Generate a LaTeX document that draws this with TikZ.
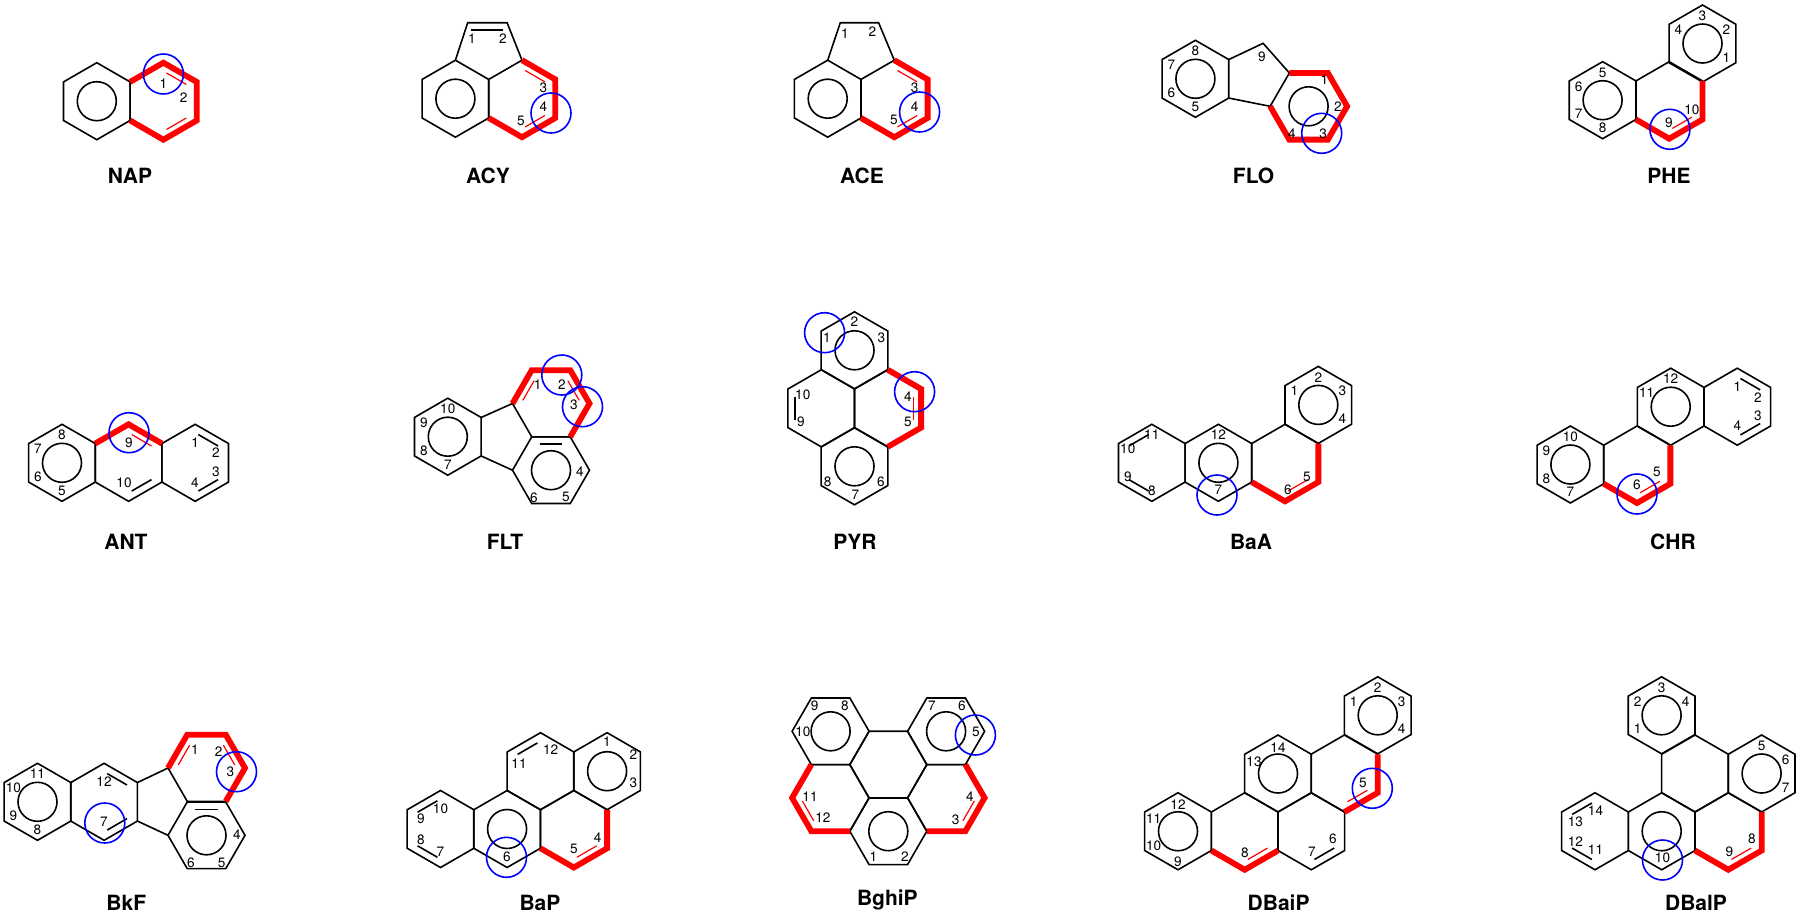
\documentclass[tikz,border=0pt]{standalone}
\usepackage{fontspec}
\setmainfont{TeX Gyre Heros}
\usetikzlibrary{calc}
\newcounter{lc}
\newcommand\hexP[3]{%
 \coordinate (#1) at (#2,#3);
 \coordinate (#1-t) at (#2,#3-38.5);
 \coordinate (#1-ur) at (#2+33.34,#3-19.25);
 \coordinate (#1-lr) at (#2+33.34,#3+19.25);
 \coordinate (#1-b) at (#2,#3+38.5);
 \coordinate (#1-ll) at (#2-33.34,#3+19.25);
 \coordinate (#1-ul) at (#2-33.34,#3-19.25);
 \draw[bond] (#1-t)--(#1-ur)--(#1-lr)--(#1-b)--(#1-ll)--(#1-ul)--cycle;}
\newcommand\hexF[3]{%
 \coordinate (#1) at (#2,#3);
 \coordinate (#1-l) at (#2-38.5,#3);
 \coordinate (#1-ul) at (#2-19.25,#3-33.34);
 \coordinate (#1-ur) at (#2+19.25,#3-33.34);
 \coordinate (#1-r) at (#2+38.5,#3);
 \coordinate (#1-lr) at (#2+19.25,#3+33.34);
 \coordinate (#1-ll) at (#2-19.25,#3+33.34);
 \draw[bond] (#1-l)--(#1-ul)--(#1-ur)--(#1-r)--(#1-lr)--(#1-ll)--cycle;}
\newcommand\arom[1]{\draw[bond] (#1) circle (19.5);}
% inner double-bond line: ring, v1, v2, style
\newcommand\dbl[4]{%
 \coordinate (dp) at ($(#1)!0.78!(#1-#2)$);
 \coordinate (dq) at ($(#1)!0.78!(#1-#3)$);
 \draw[#4] ($(dp)!0.12!(dq)$) -- ($(dq)!0.12!(dp)$);}
\newcommand\lab[3]{\stepcounter{lc}\node[lbl] (l\thelc) at ($(#1)!0.72!(#1-#2)$) {#3};}
\newcommand\labxy[3]{\stepcounter{lc}\node[lbl] (l\thelc) at (#1,#2) {#3};}
\newcommand\blue[2]{\draw[blu] (#1,#2) circle (20);}
\begin{document}
\begin{tikzpicture}[x=0.5pt,y=-0.5pt,
 bond/.style={line width=0.8pt,black,line join=miter},
 hl/.style={line width=2.9pt,red,line join=miter},
 thinred/.style={line width=0.6pt,red},
 thinblk/.style={line width=0.8pt,black},
 blu/.style={line width=0.8pt,blue},
 lbl/.style={font=\fontsize{6.8pt}{7pt}\selectfont,inner sep=0pt},
 title/.style={font=\fontsize{10.5pt}{12pt}\selectfont\bfseries,inner sep=0pt}]
\useasboundingbox (0,0) rectangle (1800,916);
\fill[white] (0,0) rectangle (1800,916);

% ===== NAP =====
\hexP{na}{96.8}{101.2}\arom{na}
\hexP{nb}{163.4}{101.2}
\draw[hl] (nb-ul)--(nb-t)--(nb-ur)--(nb-lr)--(nb-b)--(nb-ll);
\dbl{nb}{t}{ur}{thinred}\dbl{nb}{lr}{b}{thinred}
\labxy{163.4}{84}{1}\labxy{183.7}{98}{2}
\blue{163.4}{74}
\node[title] (tNAP) at (130,176) {NAP};

% ===== ACY =====
\hexP{ya}{455.4}{98.7}\arom{ya}
\hexP{yb}{522}{98.7}
\draw[bond] (ya-t)--(467.7,22.7)--(507.1,22.7)--(yb-t);
\draw[thinblk] (471,30)--(503,30);
\draw[hl] (yb-t)--(yb-ur)--(yb-lr)--(yb-b)--(yb-ll);
\dbl{yb}{t}{ur}{thinred}\dbl{yb}{lr}{b}{thinred}
\labxy{472}{39}{1}\labxy{503}{39}{2}\labxy{543.4}{88}{3}\labxy{543.4}{107}{4}\labxy{521}{121}{5}
\blue{551}{113}
\node[title] (tACY) at (488,176) {ACY};

% ===== ACE =====
\hexP{ea}{827.7}{98.7}\arom{ea}
\hexP{eb}{894.3}{98.7}
\draw[bond] (ea-t)--(840.3,22.7)--(878.6,22.7)--(eb-t);
\draw[hl] (eb-t)--(eb-ur)--(eb-lr)--(eb-b)--(eb-ll);
\dbl{eb}{t}{ur}{thinred}\dbl{eb}{lr}{b}{thinred}
\labxy{845}{33.3}{1}\labxy{872.5}{31.7}{2}\labxy{914.6}{88}{3}\labxy{914.6}{107}{4}\labxy{893.9}{120}{5}
\blue{919.6}{112}
\node[title] (tACE) at (862,176) {ACE};

% ===== FLO =====
\hexP{fa}{1195.4}{78.8}\arom{fa}
\hexF{fb}{1308.6}{106.3}\arom{fb}
\draw[bond] (fa-ur)--(1263.1,43.3)--(fb-ul);
\draw[bond] (fb-l)--(fa-lr);
\draw[hl] (fb-ul)--(fb-ur)--(fb-r)--(fb-lr)--(fb-ll)--(fb-l);
\labxy{1262}{56.7}{9}\labxy{1324.4}{80}{1}\labxy{1337.8}{106.7}{2}\labxy{1323.2}{133.3}{3}\labxy{1291.8}{133.3}{4}
\lab{fa}{t}{8}\lab{fa}{ul}{7}\lab{fa}{ll}{6}\lab{fa}{b}{5}
\blue{1321.7}{133.3}
\node[title] (tFLO) at (1253.6,176) {FLO};

% ===== PHE =====
\hexP{pt}{1702.5}{43.5}\arom{pt}
\hexP{pl}{1602.6}{100.2}\arom{pl}
\hexP{pm}{1669.2}{100.2}
\draw[hl] (pm-ll)--(pm-b)--(pm-lr)--(pm-ur);
\dbl{pm}{b}{lr}{thinred}
\lab{pl}{t}{5}\lab{pl}{ul}{6}\lab{pl}{ll}{7}\lab{pl}{b}{8}
\lab{pt}{ul}{4}\lab{pt}{t}{3}\lab{pt}{ur}{2}\lab{pt}{lr}{1}
\labxy{1668.8}{123}{9}\labxy{1691.8}{110}{10}
\blue{1669.9}{129.3}
\node[title] (tPHE) at (1669,176) {PHE};

% ===== ANT =====
\hexP{aa}{62}{462.8}\arom{aa}
\hexP{ab}{128.6}{462.8}
\hexP{ac}{195.2}{462.8}
\draw[hl] (ab-ul)--(ab-t)--(ab-ur);
\dbl{ab}{t}{ur}{thinred}
\dbl{ab}{lr}{b}{thinblk}\dbl{ac}{t}{ur}{thinblk}\dbl{ac}{lr}{b}{thinblk}
\lab{aa}{t}{8}\lab{aa}{ul}{7}\lab{aa}{ll}{6}\lab{aa}{b}{5}
\labxy{129}{443}{9}\labxy{124}{483}{10}
\labxy{195.2}{442.7}{1}\labxy{216}{453}{2}\labxy{216}{471.7}{3}\labxy{195}{482.7}{4}
\blue{129}{432.7}
\node[title] (tANT) at (126,541.7) {ANT};

% ===== FLT =====
\hexP{ta}{447.8}{436.7}\arom{ta}
\hexF{tu}{551}{403.5}
\hexF{td}{551}{470.2}\arom{td}
\draw[bond] (ta-ur)--(tu-l);
\draw[bond] (td-l)--(ta-lr);
\draw[hl] (tu-l)--(tu-ul)--(tu-ur)--(tu-r)--(tu-lr);
\dbl{tu}{l}{ul}{thinred}\dbl{tu}{ur}{r}{thinred}
\dbl{td}{ul}{ur}{thinblk}
\lab{ta}{t}{10}\lab{ta}{ul}{9}\lab{ta}{ll}{8}\lab{ta}{b}{7}
\labxy{537.7}{385}{1}\labxy{561.8}{385}{2}\labxy{574}{405}{3}
\labxy{580}{471.7}{4}\labxy{566}{497.3}{5}\labxy{533.9}{497.3}{6}
\blue{561.8}{375}\blue{582.5}{406.7}
\node[title] (tFLT) at (505,541.7) {FLT};

% ===== PYR =====
\hexP{ya1}{854.5}{350.3}\arom{ya1}
\hexP{yl}{821.2}{408.3}
\hexP{yr}{887.8}{408.3}
\hexP{yb1}{854.5}{466.3}\arom{yb1}
\draw[hl] (yr-t)--(yr-ur)--(yr-lr)--(yr-b);
\dbl{yr}{ur}{lr}{thinred}
\dbl{yl}{ul}{ll}{thinblk}
\labxy{854.5}{321.7}{2}\labxy{827}{338}{1}\labxy{881.3}{338}{3}
\labxy{802.8}{395}{10}\labxy{801}{421.7}{9}\labxy{908}{396.7}{4}\labxy{908}{421.7}{5}
\labxy{827.7}{481.7}{8}\labxy{881}{481.7}{6}\labxy{855.3}{495}{7}
\blue{824.6}{332.7}\blue{914.6}{391.7}
\node[title] (tPYR) at (855,541.7) {PYR};

% ===== BaA =====
\hexP{bl}{1151.8}{462.8}
\hexP{bm}{1218.4}{462.8}\arom{bm}
\hexP{br}{1285}{462.8}
\hexP{bt}{1318.3}{404.9}\arom{bt}
\draw[hl] (br-ll)--(br-b)--(br-lr)--(br-ur);
\dbl{br}{b}{lr}{thinred}
\dbl{bl}{ul}{t}{thinblk}\dbl{bl}{ll}{b}{thinblk}
\lab{bl}{t}{11}\lab{bl}{ul}{10}\lab{bl}{ll}{9}\lab{bl}{b}{8}
\lab{bm}{t}{12}\labxy{1218.4}{490}{7}
\labxy{1288}{490}{6}\labxy{1307}{476.7}{5}
\lab{bt}{ul}{1}\lab{bt}{t}{2}\lab{bt}{ur}{3}\lab{bt}{lr}{4}
\blue{1217}{495}
\node[title] (tBaA) at (1251,541.7) {BaA};

% ===== CHR =====
\hexP{cl}{1570.4}{464.5}\arom{cl}
\hexP{cm}{1637}{464.5}
\hexP{ct}{1670.7}{406.7}\arom{ct}
\hexP{cr}{1737.3}{406.7}
\draw[hl] (cm-ll)--(cm-b)--(cm-lr)--(cm-ur);
\dbl{cm}{b}{lr}{thinred}
\dbl{cr}{t}{ur}{thinblk}\dbl{cr}{lr}{b}{thinblk}
\lab{cl}{t}{10}\lab{cl}{ul}{9}\lab{cl}{ll}{8}\lab{cl}{b}{7}
\lab{ct}{ul}{11}\lab{ct}{t}{12}
\labxy{1737.3}{387}{1}\labxy{1758}{398}{2}\labxy{1758}{416}{3}\labxy{1737.3}{426}{4}
\labxy{1637}{485}{6}\labxy{1657}{472}{5}
\blue{1637}{494}
\node[title] (tCHR) at (1673,541.7) {CHR};

% ===== BkF =====
\hexP{kl}{37.5}{801.8}\arom{kl}
\hexP{km}{104.1}{801.8}
\hexF{ku}{206.5}{768}
\hexF{kd}{206.5}{835.3}\arom{kd}
\draw[bond] (km-ur)--(ku-l);
\draw[bond] (kd-l)--(km-lr);
\draw[hl] (ku-l)--(ku-ul)--(ku-ur)--(ku-r)--(ku-lr);
\dbl{ku}{l}{ul}{thinred}\dbl{ku}{ur}{r}{thinred}
\dbl{km}{t}{ur}{thinblk}\dbl{km}{lr}{b}{thinblk}\dbl{kd}{ul}{ur}{thinblk}
\lab{kl}{t}{11}\lab{kl}{ul}{10}\lab{kl}{ll}{9}\lab{kl}{b}{8}
\labxy{104}{781.7}{12}\labxy{104}{822}{7}
\labxy{195}{750}{1}\labxy{218.7}{751.7}{2}\labxy{230.5}{771.7}{3}
\labxy{237}{835}{4}\labxy{221.7}{862.7}{5}\labxy{190.8}{862.7}{6}
\blue{236.5}{771.7}\blue{104.8}{823}
\node[title] (tBkF) at (126.3,903) {BkF};

% ===== BaP =====
\hexP{pa}{440.5}{829}
\hexP{pb}{507.1}{829}\arom{pb}
\hexP{pc}{573.8}{829}
\hexP{pd}{540.5}{771.2}
\hexP{pe}{607.1}{771.2}\arom{pe}
\draw[hl] (pc-ll)--(pc-b)--(pc-lr)--(pc-ur);
\dbl{pc}{b}{lr}{thinred}
\dbl{pa}{ul}{t}{thinblk}\dbl{pa}{ll}{b}{thinblk}\dbl{pd}{ul}{t}{thinblk}
\labxy{440.5}{808.3}{10}\labxy{420.9}{818.3}{9}\labxy{420.9}{840}{8}\labxy{440.5}{851.7}{7}
\labxy{519}{763.3}{11}\labxy{550.7}{750}{12}
\labxy{607}{742}{1}\labxy{633.5}{755}{2}\labxy{633.5}{782.7}{3}
\labxy{573.8}{849.3}{5}\labxy{597.7}{837.3}{4}\labxy{507}{857}{6}
\blue{506.5}{857.3}
\node[title] (tBaP) at (540,903) {BaP};

% ===== BghiP =====
\hexF{ga}{830.6}{731.3}\arom{ga}
\hexF{gb}{946.1}{731.3}\arom{gb}
\hexF{gc}{888.3}{764.6}
\hexF{gd}{830.6}{797.9}
\hexF{ge}{946.1}{797.9}
\hexF{gf}{888.3}{831.2}\arom{gf}
\draw[hl] (gd-ul)--(gd-l)--(gd-ll)--(gd-lr);
\draw[hl] (ge-ur)--(ge-r)--(ge-lr)--(ge-ll);
\dbl{gd}{l}{ll}{thinred}\dbl{ge}{r}{lr}{thinred}
\labxy{814.6}{705.7}{9}\labxy{845}{705.7}{8}\labxy{802.9}{731.7}{10}
\labxy{931.8}{705.7}{7}\labxy{961.8}{705.7}{6}\labxy{976}{731.7}{5}
\labxy{810}{797}{11}\labxy{822.9}{817.7}{12}\labxy{970}{797}{4}\labxy{955.7}{820}{3}
\labxy{873.4}{856.7}{1}\labxy{905}{856.7}{2}
\blue{975.4}{735}
\node[title] (tBghiP) at (887.4,900) {BghiP};

% ===== DBaiP =====
\hexP{da}{1377.7}{715.3}\arom{da}
\hexP{dq}{1278}{773.5}\arom{dq}
\hexP{df}{1344.4}{773.5}
\hexP{dl}{1178}{831.25}\arom{dl}
\hexP{de}{1244.7}{831.25}
\hexP{ds}{1311.3}{831.25}
\draw[hl] (df-ur)--(df-lr)--(df-b);
\draw[hl] (de-ll)--(de-b)--(de-lr);
\dbl{df}{lr}{b}{thinred}\dbl{de}{b}{lr}{thinred}
\dbl{ds}{b}{lr}{thinblk}
\lab{da}{ul}{1}\lab{da}{t}{2}\lab{da}{ur}{3}\lab{da}{lr}{4}
\labxy{1254}{761.7}{13}\labxy{1278}{748}{14}
\labxy{1178}{805}{12}\labxy{1153.6}{819}{11}\labxy{1153.6}{846}{10}\labxy{1178}{861.7}{9}
\labxy{1245}{853}{8}\labxy{1312}{851.7}{7}\labxy{1333}{839}{6}\labxy{1363}{783}{5}
\blue{1372.3}{788.3}
\node[title] (tDBaiP) at (1278.6,903) {DBaiP};

% ===== DBalP =====
\hexP{ea1}{1661.6}{715.3}\arom{ea1}
\hexP{em}{1695}{773.5}
\hexP{er}{1761.6}{773.5}\arom{er}
\hexP{ew}{1595}{831.25}
\hexP{ex}{1661.7}{831.25}\arom{ex}
\hexP{ey}{1728.3}{831.25}
\draw[hl] (ey-ll)--(ey-b)--(ey-lr)--(ey-ur);
\dbl{ey}{b}{lr}{thinred}
\dbl{ew}{t}{ul}{thinblk}\dbl{ew}{ll}{b}{thinblk}
\lab{ea1}{ll}{1}\lab{ea1}{ul}{2}\lab{ea1}{t}{3}\lab{ea1}{ur}{4}
\lab{er}{t}{5}\lab{er}{ur}{6}\lab{er}{lr}{7}
\labxy{1595.5}{810.7}{14}\labxy{1575.4}{821.7}{13}\labxy{1575.4}{841.7}{12}\labxy{1595.5}{850}{11}
\labxy{1662.5}{858}{10}\labxy{1729.5}{851.7}{9}\labxy{1751.8}{838.3}{8}
\blue{1662.5}{860}
\node[title] (tDBalP) at (1696,903) {DBalP};
\end{tikzpicture}
\end{document}
